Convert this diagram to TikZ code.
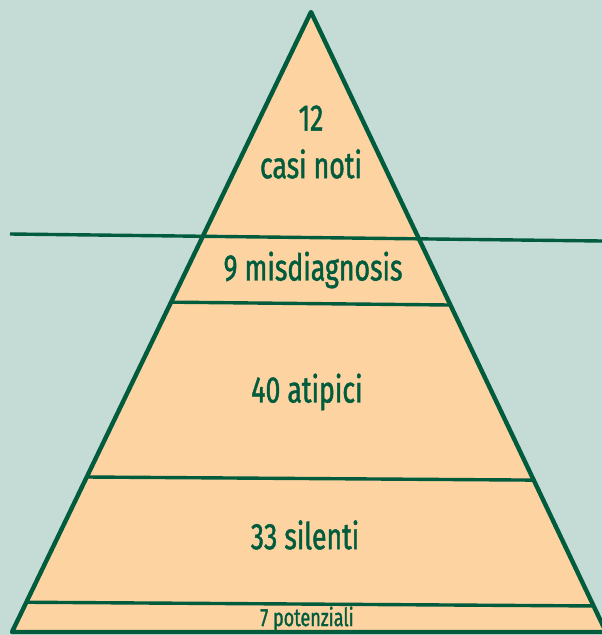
\documentclass[tikz,border=0pt]{standalone}
\usepackage{fontspec}
\setmainfont{Fira Sans}[FakeStretch=0.72,FakeBold=1.2]
\usetikzlibrary{calc}
\definecolor{sea}{HTML}{C5DBD6}
\definecolor{peach}{HTML}{FDD3A2}
\definecolor{pyrline}{HTML}{005C3C}
\begin{document}
\begin{tikzpicture}[x=1pt,y=-1pt,
    edge/.style={line width=4.4pt,draw=pyrline,line join=round},
    band/.style={line width=3.4pt,draw=pyrline},
    lbl/.style={text=pyrline,inner sep=0pt,font=\fontsize{37}{40}\selectfont},
    small/.style={lbl,font=\fontsize{25}{28}\selectfont},
  ]
  \useasboundingbox (0,0) rectangle (602,635);
  \clip (0,0) rectangle (602,635);
  \fill[sea] (0,0) rectangle (602,635);
  \coordinate (top) at (311,12);
  \coordinate (bl) at (12,632);
  \coordinate (br) at (606,632);
  \filldraw[edge,fill=peach] (top) -- (bl) -- (br) -- cycle;
  % bands
  \foreach \a/\b in {0.468/0.4726,0.75/0.755,0.952/0.958}
    \draw[band] ($(top)!\a!(bl)$) -- ($(top)!\b!(br)$);
  % water line
  \coordinate (wl) at (10,234);
  \coordinate (wr) at (602,241);
  \draw[band] (wl) -- (wr);
  \node[lbl] (noti) at (311,118) {12};
  \node[lbl] (notitxt) at (311,164) {casi noti};
  \node[lbl] (misd) at (313,270) {9 misdiagnosis};
  \node[lbl] (atip) at (307,392) {40 atipici};
  \node[lbl] (sil) at (305,535) {33 silenti};
  \node[small] (pot) at (307,619) {7 potenziali};
\end{tikzpicture}
\end{document}
